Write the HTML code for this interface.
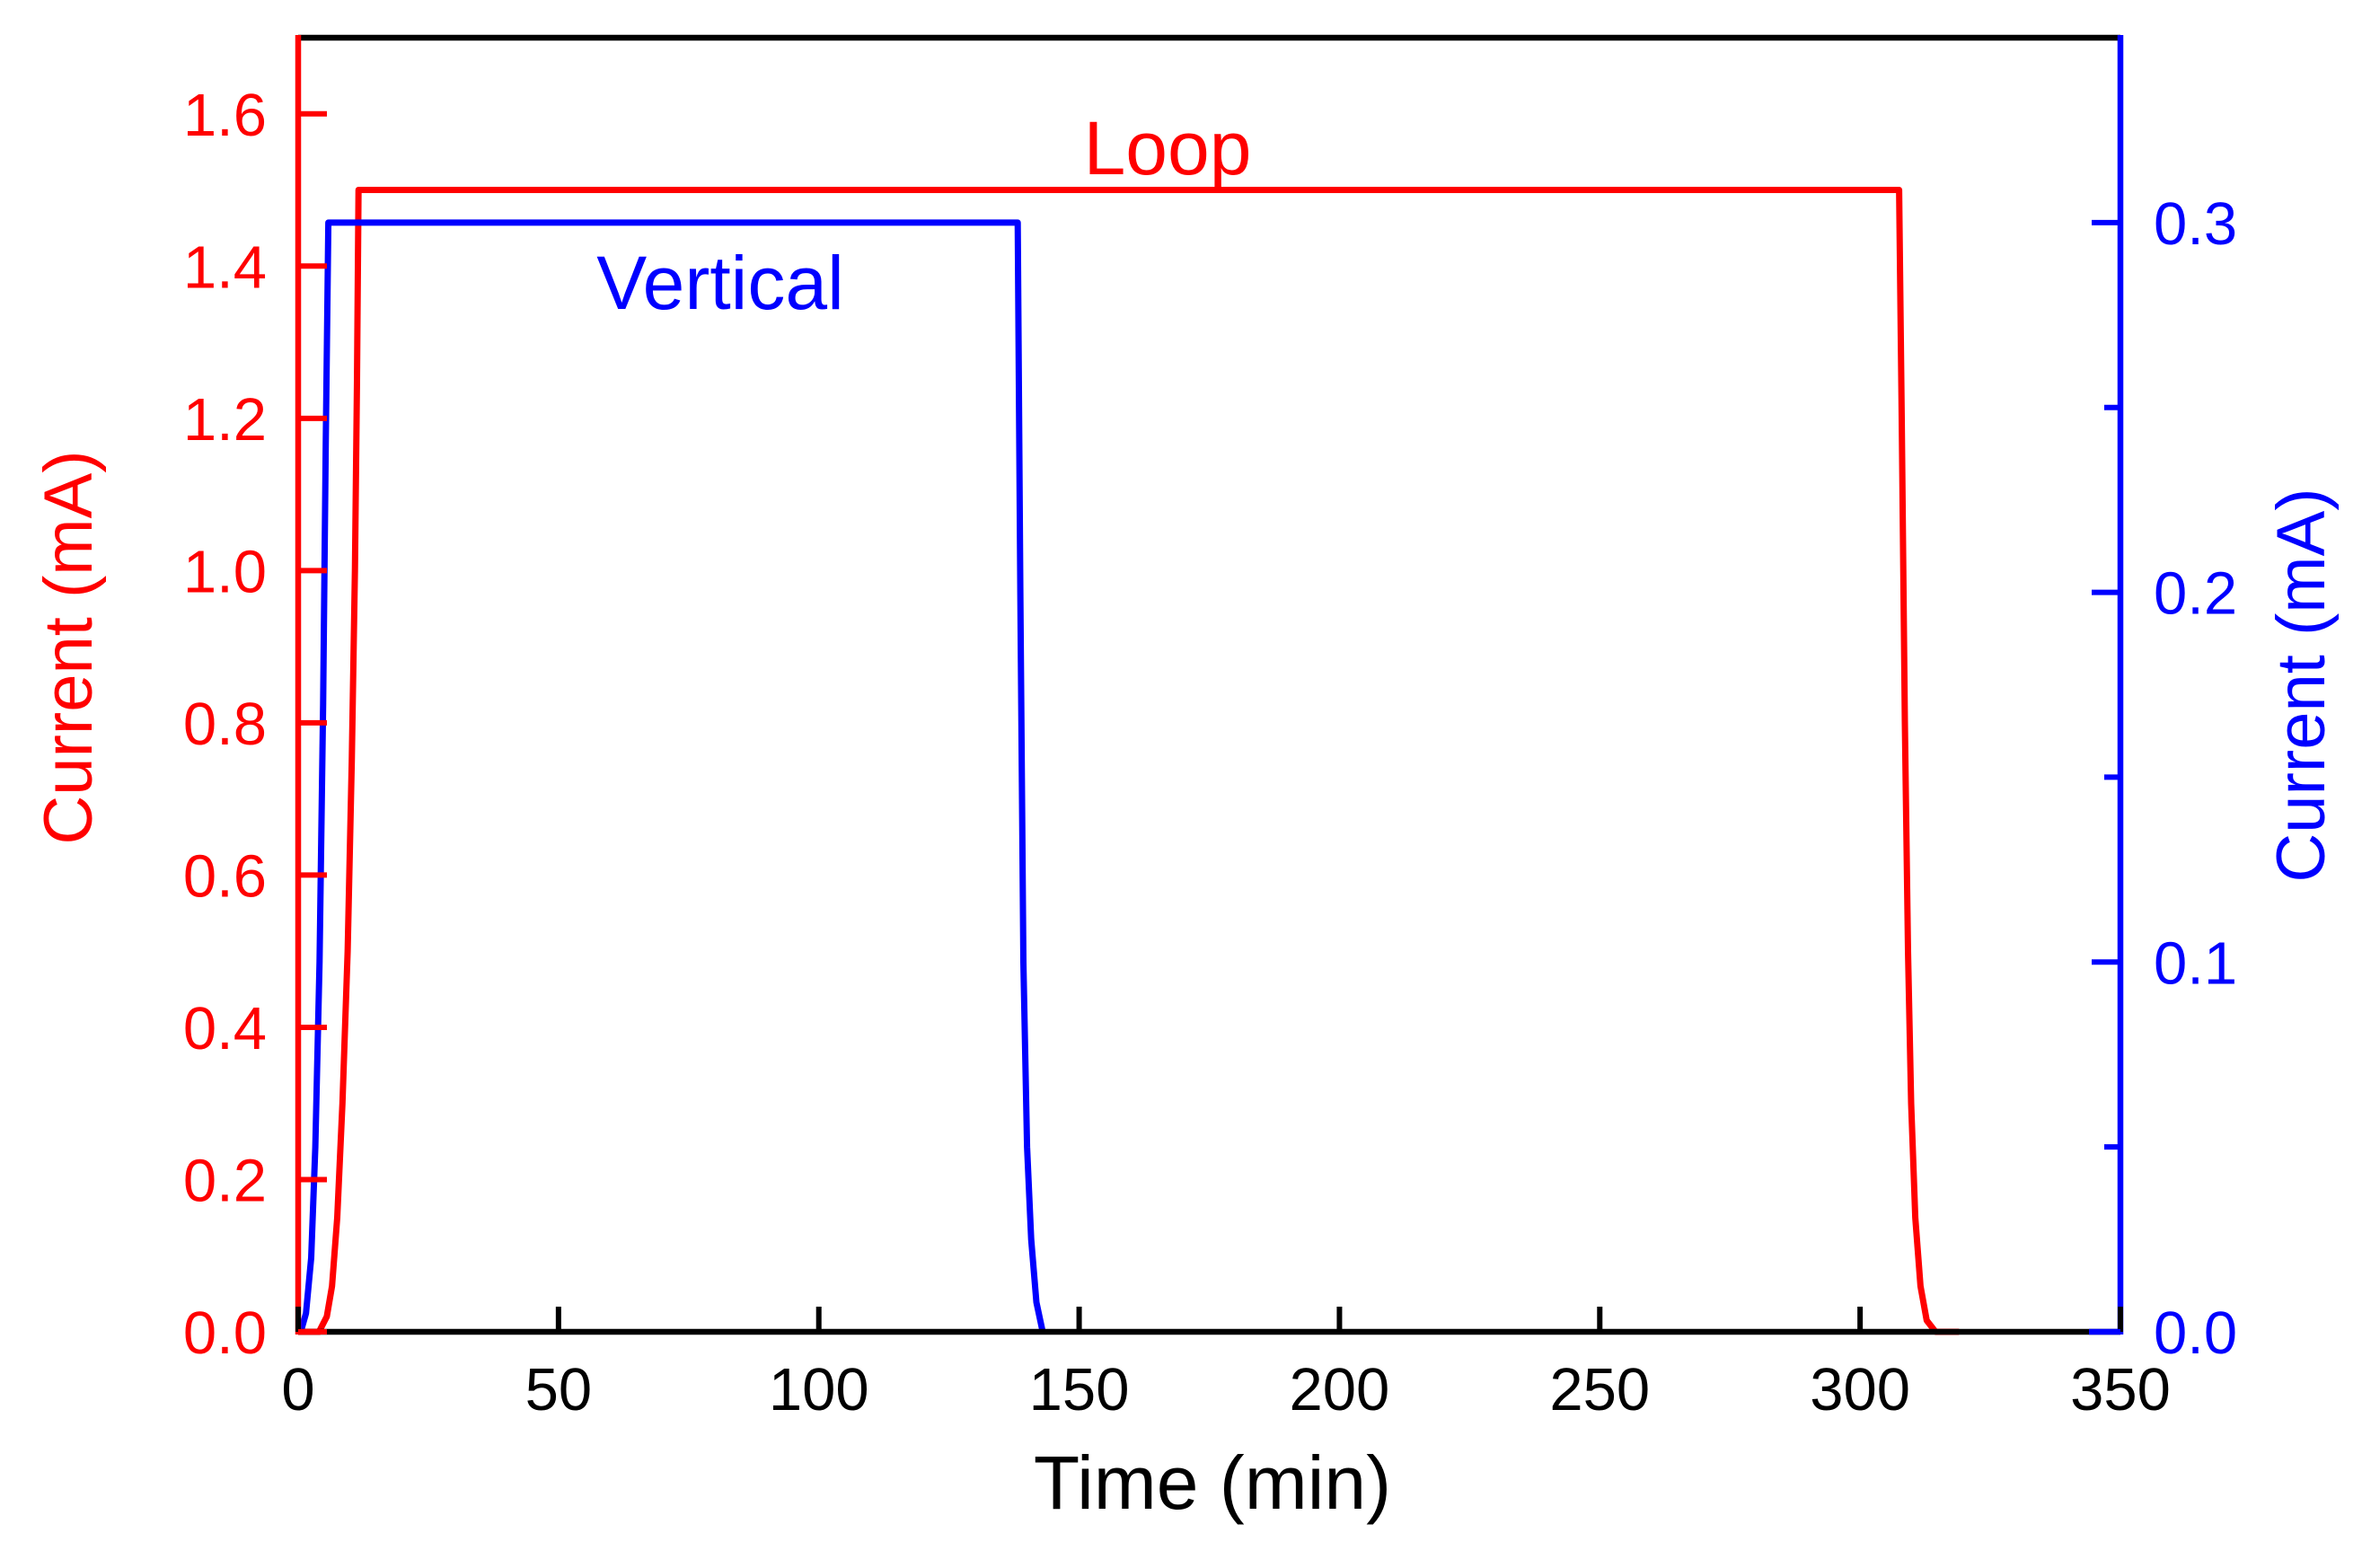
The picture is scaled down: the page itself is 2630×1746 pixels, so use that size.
<!DOCTYPE html>
<html><head><meta charset="utf-8"><style>
html,body{margin:0;padding:0;background:#fff;}
svg{display:block;font-family:"Liberation Sans",Arial,sans-serif;}
</style></head><body>
<svg id="chart" width="2630" height="1746" viewBox="0 0 2630 1746"></svg>
<script>
const xTicks=[0,50,100,150,200,250,300,350];
const leftTicks=[0.0,0.2,0.4,0.6,0.8,1.0,1.2,1.4,1.6];
const rightMajor=[0.0,0.1,0.2,0.3];
const rightMinor=[0.05,0.15,0.25];
const loopT=[0,4,5.5,6.5,7.5,8.5,9.5,10.3,10.9,11.3,11.6,307.5,308,308.6,309.2,309.8,310.6,311.6,312.8,314.5,319];
const loopI=[0,0,0.02,0.06,0.15,0.3,0.5,0.75,1.0,1.25,1.5,1.5,1.2,0.8,0.5,0.3,0.15,0.06,0.015,0,0];
const vertT=[0.5,1.5,2.5,3.3,4.1,4.8,5.3,5.8,138.2,138.7,139.3,140,140.8,141.8,143];
const vertI=[0,0.005,0.02,0.05,0.1,0.17,0.24,0.3,0.3,0.2,0.1,0.05,0.025,0.008,0];

const L=332,R=2361,T=42,B=1483;
const X=v=>L+(v/350)*(R-L);
const YL=v=>B-(v/1.7)*(B-T);
const YR=v=>B-(v/0.35)*(B-T);
const svg=document.getElementById('chart');
const NS='http://www.w3.org/2000/svg';
function mk(tag,attrs,parent){const e=document.createElementNS(NS,tag);for(const k in attrs)e.setAttribute(k,attrs[k]);(parent||svg).appendChild(e);return e;}

let d=loopT.map((t,i)=>(i?'L':'M')+X(t).toFixed(1)+','+YL(loopI[i]).toFixed(1)).join(' ');
let p=mk('path',{d:d,fill:'none',stroke:'#ff0000','stroke-width':7,'stroke-linejoin':'round'});


d=vertT.map((t,i)=>(i?'L':'M')+X(t).toFixed(1)+','+YR(vertI[i]).toFixed(1)).join(' ');
p=mk('path',{d:d,fill:'none',stroke:'#0000ff','stroke-width':7,'stroke-linejoin':'round'});



let a=mk('line',{x1:L,y1:T,x2:R,y2:T,stroke:'#000','stroke-width':6.5});

a=mk('line',{x1:L,y1:B,x2:R,y2:B,stroke:'#000','stroke-width':6.5});

a=mk('line',{x1:L,y1:T-3,x2:L,y2:B+3,stroke:'#ff0000','stroke-width':6.5});

a=mk('line',{x1:R,y1:T-3,x2:R,y2:B+3,stroke:'#0000ff','stroke-width':6.5});

a=mk('line',{x1:R-35,y1:B,x2:R,y2:B,stroke:'#0000ff','stroke-width':6.5});
a=mk('line',{x1:L,y1:B,x2:L+25,y2:B,stroke:'#ff0000','stroke-width':6.5});

xTicks.forEach(v=>{
  const t=mk('line',{x1:X(v),y1:B,x2:X(v),y2:B-28,stroke:'#000','stroke-width':6});
  
  const l=mk('text',{x:X(v),y:1570,'text-anchor':'middle','font-size':67,fill:'#000'});
  l.textContent=v;
  
});
leftTicks.forEach(v=>{
  const t=mk('line',{x1:L,y1:YL(v),x2:L+32,y2:YL(v),stroke:'#ff0000','stroke-width':6});
  
  const l=mk('text',{x:297,y:YL(v)+24,'text-anchor':'end','font-size':67,fill:'#ff0000'});
  l.textContent=v.toFixed(1);
  
});
rightMajor.forEach(v=>{
  const t=mk('line',{x1:R,y1:YR(v),x2:R-32,y2:YR(v),stroke:'#0000ff','stroke-width':6});
  
  const l=mk('text',{x:2398,y:YR(v)+24,'text-anchor':'start','font-size':67,fill:'#0000ff'});
  l.textContent=v.toFixed(1);
  
});
rightMinor.forEach(v=>{
  const t=mk('line',{x1:R,y1:YR(v),x2:R-18,y2:YR(v),stroke:'#0000ff','stroke-width':6});
  
});

let t=mk('text',{x:1350,y:1680,'text-anchor':'middle','font-size':84,fill:'#000'});
t.textContent='Time (min)';
t=mk('text',{x:0,y:0,transform:'translate(102,721) rotate(-90)','text-anchor':'middle','font-size':76,fill:'#ff0000'});
t.textContent='Current (mA)';
t=mk('text',{x:0,y:0,transform:'translate(2588,763) rotate(-90)','text-anchor':'middle','font-size':76,fill:'#0000ff'});
t.textContent='Current (mA)';
t=mk('text',{x:1300,y:194,'text-anchor':'middle','font-size':84,fill:'#ff0000'});
t.textContent='Loop';
t=mk('text',{x:802,y:344,'text-anchor':'middle','font-size':84,fill:'#0000ff'});
t.textContent='Vertical';
</script>
</body></html>
